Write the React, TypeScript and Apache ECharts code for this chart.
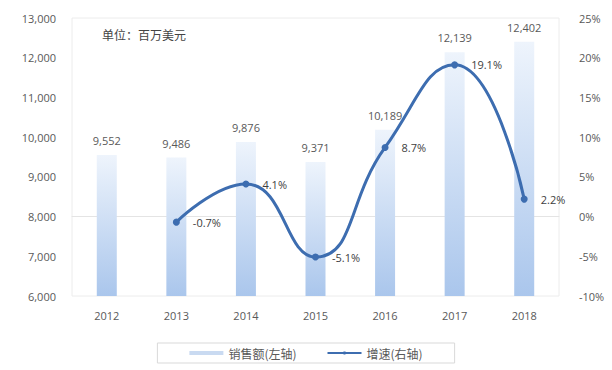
import React, { useEffect, useRef } from "react";
import * as echarts from "echarts";

const years = ["2012", "2013", "2014", "2015", "2016", "2017", "2018"];
const sales = [9552, 9486, 9876, 9371, 10189, 12139, 12402];
const growth: (number | null)[] = [null, -0.7, 4.1, -5.1, 8.7, 19.1, 2.2];
const unitText = "单位：百万美元";
const salesName = "销售额(左轴)";
const growthName = "增速(右轴)";

export default function App() {
  const ref = useRef<HTMLDivElement>(null);
  useEffect(() => {
    document.body.style.margin = "0";
    if (!ref.current) return;
    const chart = echarts.init(ref.current, undefined, { renderer: "svg" });
    const font = "'Open Sans', 'Noto Sans CJK SC', sans-serif";
    const cjk = "'Noto Sans CJK SC', sans-serif";
    const gray = "#595959";
    chart.setOption({
      animation: false,
      textStyle: { fontFamily: font },
      grid: { left: 72, right: 53, top: 18, bottom: 74, show: true, borderColor: "#ececec", borderWidth: 1 },
      graphic: [
        {
          type: "text",
          left: 102,
          top: 28,
          style: { text: unitText, fontSize: 12, fill: "#444", fontFamily: cjk },
        },
      ],
      legend: {
        top: 343,
        left: "center",
        itemGap: 30,
        padding: [4, 32],
        borderColor: "#d9d9d9",
        borderWidth: 1,
        textStyle: { color: gray, fontSize: 12, fontFamily: cjk },
        data: [
          { name: salesName, icon: "rect", itemStyle: { color: "#c9daf1" } },
          { name: growthName },
        ],
        itemWidth: 34,
        itemHeight: 4,
      },
      xAxis: {
        type: "category",
        data: years,
        axisLine: { lineStyle: { color: "#e4e4e4" } },
        axisTick: { show: false },
        axisLabel: { color: gray, fontSize: 11, margin: 14 },
      },
      yAxis: [
        {
          type: "value",
          min: 6000,
          max: 13000,
          interval: 1000,
          splitLine: { show: false },
          axisLine: { show: false },
          axisLabel: {
            color: gray,
            fontSize: 11,
            margin: 16,
            formatter: (v: number) => v.toLocaleString("en-US"),
          },
        },
        {
          type: "value",
          min: -10,
          max: 25,
          interval: 5,
          splitLine: { show: false },
          axisLine: { show: false },
          axisLabel: { color: gray, fontSize: 11, margin: 20, formatter: "{value}%" },
        },
      ],
      series: [
        {
          name: salesName,
          type: "bar",
          data: sales,
          barWidth: 20,
          itemStyle: {
            color: new echarts.graphic.LinearGradient(0, 0, 0, 1, [
              { offset: 0, color: "#eef4fc" },
              { offset: 1, color: "#aac6ec" },
            ]),
          },
          label: {
            show: true,
            position: "top",
            distance: 9,
            color: gray,
            fontSize: 11,
            formatter: (p: any) => Number(p.value).toLocaleString("en-US"),
          },
        },
        {
          name: growthName,
          type: "line",
          yAxisIndex: 1,
          data: growth,
          smooth: 0.5,
          symbol: "circle",
          symbolSize: 7,
          lineStyle: { color: "#3d6db0", width: 3 },
          itemStyle: { color: "#3d6db0" },
          label: {
            show: true,
            position: "right",
            distance: 13,
            color: "#404040",
            fontSize: 11,
            formatter: (p: any) => p.value + "%",
          },
        },
      ],
    });
    return () => chart.dispose();
  }, []);
  return <div ref={ref} style={{ width: 612, height: 370 }} />;
}
